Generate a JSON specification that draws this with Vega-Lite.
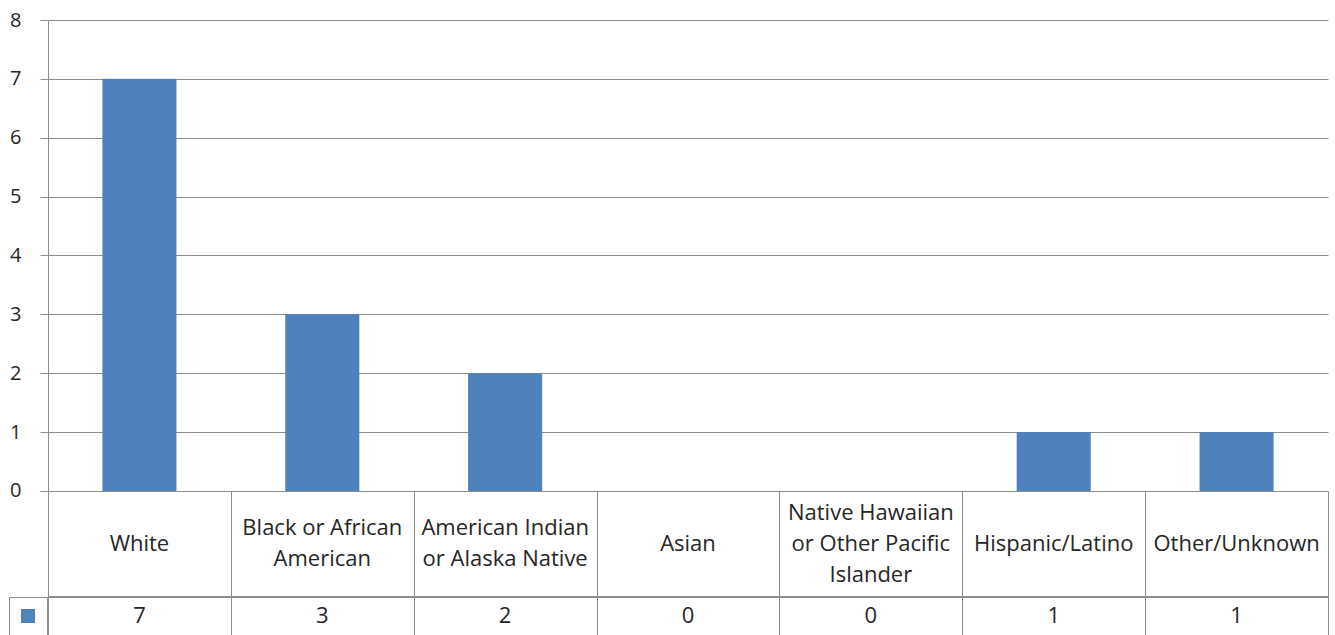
{
  "$schema": "https://vega.github.io/schema/vega-lite/v6.json",
  "width": 1280,
  "height": 615,
  "autosize": {"type": "none"},
  "padding": {"left": 48, "top": 20, "right": 7, "bottom": 0},
  "background": "white",
  "config": {"view": {"stroke": null}, "font": "Open Sans"},
  "data": {
    "values": [
      {"category": "White", "label": "White", "value": 7},
      {"category": "Black or African American", "label": "Black or African\nAmerican", "value": 3},
      {"category": "American Indian or Alaska Native", "label": "American Indian\nor Alaska Native", "value": 2},
      {"category": "Asian", "label": "Asian", "value": 0},
      {"category": "Native Hawaiian or Other Pacific Islander", "label": "Native Hawaiian\nor Other Pacific\nIslander", "value": 0},
      {"category": "Hispanic/Latino", "label": "Hispanic/Latino", "value": 1},
      {"category": "Other/Unknown", "label": "Other/Unknown", "value": 1}
    ]
  },
  "layer": [
    {
      "mark": {"type": "bar", "width": {"band": 0.405}},
      "encoding": {
        "x": {
          "field": "category", "type": "nominal", "sort": null,
          "scale": {"paddingInner": 0, "paddingOuter": 0},
          "axis": {"orient": "bottom", "labels": false, "domain": false, "title": null, "ticks": true, "tickBand": "extent", "tickSize": -144, "tickColor": "#8c8c8c", "grid": false}
        },
        "y": {
          "field": "value", "type": "quantitative",
          "scale": {"domain": [-2.446, 8], "nice": false, "zero": false},
          "axis": {"values": [0, 1, 2, 3, 4, 5, 6, 7, 8], "format": "d", "grid": true, "gridColor": "#8c8c8c", "domainColor": "#8c8c8c", "tickColor": "#8c8c8c", "tickSize": 8, "labelFontSize": 20, "labelColor": "#262626", "labelPadding": 19, "title": null}
        },
        "y2": {"datum": 0},
        "color": {
          "datum": "Series 1",
          "scale": {"range": ["#4F81BD"]},
          "legend": {"orient": "none", "legendX": -39, "legendY": 577, "title": null, "labelExpr": "''", "labelOffset": 0, "labelFontSize": 1, "symbolType": "square", "symbolSize": 196, "symbolStrokeWidth": 0, "padding": 12, "strokeColor": "#8c8c8c"}
        }
      }
    },
    {
      "mark": {"type": "rule", "color": "#8c8c8c"},
      "encoding": {"y": {"datum": -1.8}}
    },
    {
      "transform": [{"filter": "split(datum.label, '\\n').length == 1"}],
      "mark": {"type": "text", "fontSize": 22, "color": "#262626", "baseline": "middle"},
      "encoding": {
        "x": {"field": "category", "type": "nominal", "sort": null},
        "y": {"datum": -0.9},
        "text": {"field": "label"}
      }
    },
    {
      "transform": [{"filter": "split(datum.label, '\\n').length == 2"}],
      "mark": {"type": "text", "fontSize": 22, "lineBreak": "\n", "lineHeight": 31, "color": "#262626", "baseline": "middle"},
      "encoding": {
        "x": {"field": "category", "type": "nominal", "sort": null},
        "y": {"datum": -0.637},
        "text": {"field": "label"}
      }
    },
    {
      "transform": [{"filter": "split(datum.label, '\\n').length == 3"}],
      "mark": {"type": "text", "fontSize": 22, "lineBreak": "\n", "lineHeight": 31, "color": "#262626", "baseline": "middle"},
      "encoding": {
        "x": {"field": "category", "type": "nominal", "sort": null},
        "y": {"datum": -0.373},
        "text": {"field": "label"}
      }
    },
    {
      "mark": {"type": "text", "fontSize": 22, "color": "#262626", "baseline": "middle"},
      "encoding": {
        "x": {"field": "category", "type": "nominal", "sort": null},
        "y": {"datum": -2.12},
        "text": {"field": "value", "type": "quantitative"}
      }
    }
  ]
}
